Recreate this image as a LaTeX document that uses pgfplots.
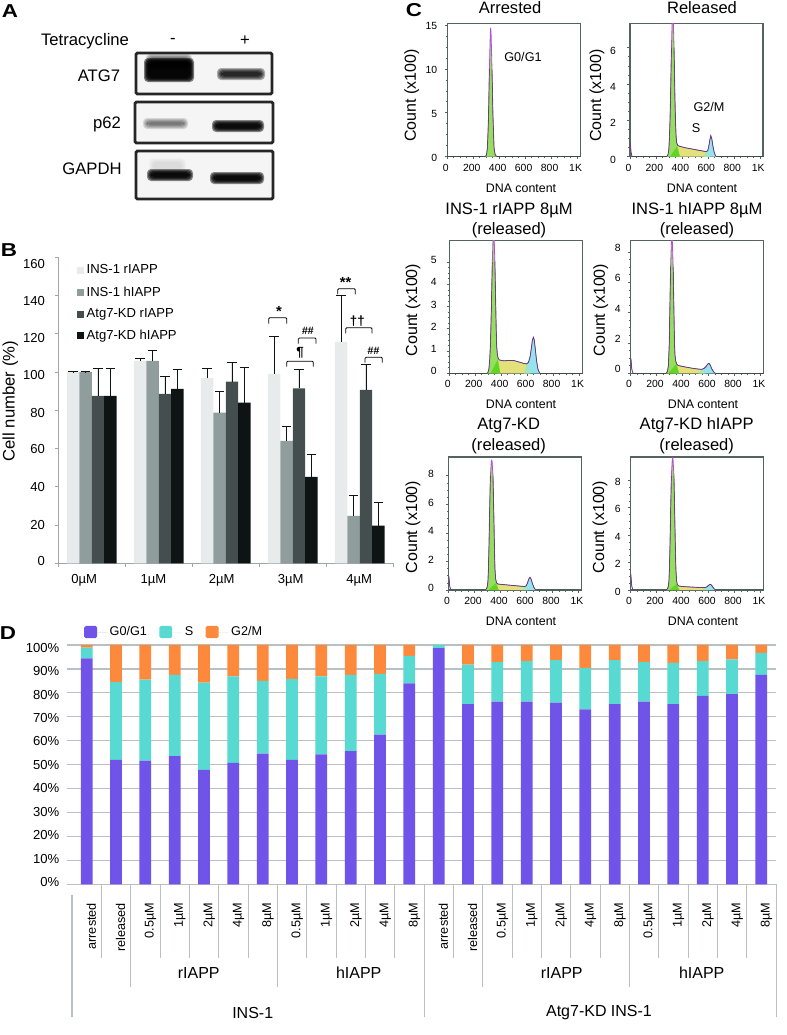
\documentclass[border=0pt]{standalone}
\usepackage{fontspec}
\setmainfont{Liberation Sans}
\usepackage{pgfplots}
\pgfplotsset{compat=1.18}

\definecolor{barA}{HTML}{E8EBEB}
\definecolor{barB}{HTML}{8F9D9D}
\definecolor{barC}{HTML}{444E4E}
\definecolor{barD}{HTML}{0E1414}
\definecolor{phG}{HTML}{7053E8}
\definecolor{phS}{HTML}{58D9D2}
\definecolor{phM}{HTML}{FD8A3C}
\definecolor{gridg}{HTML}{B9C0C3}
\definecolor{boxg}{HTML}{55635F}
\definecolor{axb}{HTML}{A0A6A6}
\definecolor{flCy}{HTML}{94E3EE}
\definecolor{flYe}{HTML}{E3E27A}
\definecolor{flGr}{HTML}{94E05C}
\definecolor{flTr}{HTML}{62D424}
\definecolor{flTc}{HTML}{A6E6B8}
\definecolor{flPu}{HTML}{B44FD6}
\definecolor{flDk}{HTML}{363C40}

\newcommand{\fs}[1]{\fontsize{#1}{#1}\selectfont}

% one western blot band, soft edge made from stacked transparent fills
\newcommand{\band}[5]{\foreach \d in {4,3,2,1,0}{
  \fill[black,opacity=#5,rounded corners=3pt] ({#1-\d},{#2-\d}) rectangle ({#3+\d},{#4+\d});}}
\newcommand{\blotbox}[4]{\draw[black!85,line width=2.2pt,rounded corners=1pt,fill=black!4] (#1,#2) rectangle (#3,#4);}
\newcommand{\brk}[4]{\draw[black,line width=0.65pt,rounded corners=0.8pt] (#1,#4) -- (#1,#3) -- (#2,#3) -- (#2,#4);}

\pgfplotsset{
  flow/.style={
    scale only axis, width=99.75pt, height=99.75pt, anchor=south west,
    xmin=0, xmax=1024, ymin=0,
    xtick={0,200,400,600,800,1000}, xticklabels={0,200,400,600,800,1K},
    minor x tick num=3, minor y tick num=3,
    xtick pos=lower, ytick pos=left, tick align=outside,
    major tick length=2pt, minor tick length=1.2pt,
    tick style={boxg,line width=0.5pt},
    axis line style={boxg,line width=0.8pt},
    ticklabel style={font=\fs{7.8}},
    /pgf/number format/assume math mode=true,
    xticklabel style={xshift=-1.2pt},
    unbounded coords=jump,
  },
  pk/.style={fill=#1,draw=none,forget plot},
}

% curve, peak, triangle under the peak, S, G2/M, triangle under G2/M, top of dark line
\newcommand{\flowlayers}[7]{
  \addplot[pk=flCy] coordinates {#5} \closedcycle;
  \addplot[pk=flYe] coordinates {#4} \closedcycle;
  \addplot[pk=flGr] coordinates {#2} \closedcycle;
  \addplot[pk=flTr] coordinates {#3} \closedcycle;
  \addplot[pk=flTc] coordinates {#6} \closedcycle;
  \addplot[color=flPu,line width=0.6pt,restrict y to domain=0.02:100] coordinates {#1};
  \addplot[color=flDk,line width=0.35pt,restrict y to domain=-1:#7] coordinates {#1};
}
\newcommand{\flowaxis}[7]{
  \coordinate (flowcorner) at (#1,#2);
  \begin{axis}[flow, at={(flowcorner)}, ymax=#3, ytick={#4}, yticklabel style={xshift=#5,yshift=#6}]
  #7
  \end{axis}
}

\begin{document}
\begin{tikzpicture}[x=0.75pt,y=-0.75pt]
\path[use as bounding box] (0,0) rectangle (786,1035);
\coordinate (cornerB) at (58.3,563.3);
\coordinate (cornerD) at (72,884.3);

% panel letters
\foreach \t/\a/\b in {A/10/11,B/9/250,C/414/10,D/8/633}
  \node[font=\fs{14}\bfseries,xscale=1.2,inner sep=0] at (\a,\b) {\t};

% A: blots
\node[font=\fs{12.5}] at (85,41) {Tetracycline};
\node[font=\fs{12.5}] at (173,41) {-};
\node[font=\fs{12.5}] at (245,41) {+};
\node[font=\fs{12.5}] at (99,76) {ATG7};
\node[font=\fs{12.5}] at (107,124) {p62};
\node[font=\fs{12.5}] at (92,169) {GAPDH};
\blotbox{136}{53}{272}{94}
\blotbox{135}{102}{273}{143}
\blotbox{136}{151}{273}{199}
\band{148}{62}{190}{78}{0.5}
\band{150}{58}{188}{66}{0.15}
\band{221}{72}{261}{76}{0.3}
\band{147}{122}{184}{125}{0.13}
\band{216}{124}{260}{128}{0.45}
\band{151}{173}{189}{177}{0.45}
\band{153}{162}{182}{170}{0.02}
\band{214}{176}{260}{180}{0.45}

% B: cell number
\begin{axis}[
    scale only axis, width=251.25pt, height=229.5pt,
    at={(cornerB)}, anchor=south west,
    xmin=-0.5, xmax=4.5, ymin=0, ymax=160,
    ybar=0pt, bar width=9.3pt,
    axis x line*=bottom, axis y line*=left,
    axis line style={axb,line width=0.8pt},
    tick style={axb,line width=0.6pt},
    ytick={1.2,20.05,40.1,59.6,78.6,98.2,117.7,137.4,156.4},
    yticklabels={0,20,40,60,80,100,120,140,160},
    ytick style={draw=none},
    extra y ticks={0,20,40,60,80,100,120,140,160},
    extra y tick labels={},
    extra y tick style={ytick style={draw=axb}},
    xtick={-0.114,0.92,1.94,2.97,3.99},
    xticklabels={0µM,1µM,2µM,3µM,4µM},
    xtick style={draw=none},
    extra x ticks={-0.5,0.5,1.5,2.5,3.5,4.5},
    extra x tick labels={},
    extra x tick style={xtick style={draw=axb}},
    major tick length=2.5pt,
    tick align=outside,
    ticklabel style={font=\fs{9.8}},
    yticklabel style={xshift=-4pt},
    xticklabel style={yshift=-2pt},
    /pgf/number format/assume math mode=true,
    ylabel={Cell number (\%)},
    ylabel style={font=\fs{12.5}, at={(axis description cs:-0.143,0.53)}, anchor=center},
    legend style={draw=none,fill=none,at={(axis description cs:0.056,0.985)},anchor=north west,
      font=\fs{9.8},row sep=3.95pt,inner sep=0pt},
    legend cell align=left,
    legend image code/.code={\fill[#1] (0pt,-2.6pt) rectangle (5pt,2.6pt);},
    error bars/y dir=plus, error bars/y explicit,
    error bars/error bar style={color=barD,line width=0.7pt},
    error bars/error mark options={color=barD,line width=0.7pt,mark size=3.6pt,rotate=90},
  ]
  \addplot[fill=barA,draw=none] coordinates {
    (0,100) +- (0,0.2) (1,105.8) +- (0,1.2) (2,96.8) +- (0,5) (3,99) +- (0,19.7) (4,115.8) +- (0,24)};
  \addplot[fill=barB,draw=none] coordinates {
    (0,100) +- (0,0.2) (1,105.8) +- (0,5.6) (2,78.8) +- (0,11.2) (3,64) +- (0,7.8) (4,24.8) +- (0,10.8)};
  \addplot[fill=barC,draw=none] coordinates {
    (0,87.5) +- (0,14.5) (1,88.6) +- (0,9) (2,95) +- (0,10) (3,91.5) +- (0,9.8) (4,90.7) +- (0,13.2)};
  \addplot[fill=barD,draw=none] coordinates {
    (0,87.5) +- (0,14.5) (1,91.2) +- (0,9.9) (2,84) +- (0,18.4) (3,45.2) +- (0,11.6) (4,19.7) +- (0,12.2)};
  \legend{INS-1 rIAPP,INS-1 hIAPP,Atg7-KD rIAPP,Atg7-KD hIAPP}
\end{axis}

% B: significance brackets
\brk{268.7}{286.7}{317.7}{323.7} \node[font=\fs{11}\bfseries,inner sep=0] at (279,311) {*};
\brk{298.3}{316}{338}{343.7}     \node[font=\fs{8}\bfseries\itshape,inner sep=0] at (307.7,331) {\#\#};
\brk{286.7}{313.3}{361.3}{366.7} \node[font=\fs{10}\bfseries,inner sep=0] at (300,353) {¶};
\brk{337.7}{355.3}{288.7}{294.3} \node[font=\fs{11}\bfseries,inner sep=0] at (345.7,282) {**};
\brk{345.7}{372}{327.7}{333.3}   \node[font=\fs{10}\bfseries,inner sep=0] at (357.3,320.7) {††};
\brk{365}{382.3}{357.3}{362.7}   \node[font=\fs{8}\bfseries\itshape,inner sep=0] at (373.3,350.7) {\#\#};

% C: cell cycle histograms
\flowaxis{447.3}{156.7}{15.15}{0,5,10,15}{-2pt}{-1pt}{
  \addplot[pk=flGr] coordinates {(285,0)(295,.05)(302,.25)(309,1)(314,3)(318,5)(324,10)(331,14)(334,14.7)(337,14)(344,10)(351,5)(355,3)(360,1)(368,.25)(378,.05)(388,0)} \closedcycle;
  \addplot[color=flPu,line width=0.6pt,restrict y to domain=0.02:100] coordinates {(0,0)(285,0)(295,.05)(302,.25)(309,1)(314,3)(318,5)(324,10)(331,14)(334,14.7)(337,14)(344,10)(351,5)(355,3)(360,1)(368,.25)(378,.05)(388,0)(1024,0)};
  \addplot[color=flDk,line width=0.35pt,restrict y to domain=-1:13.5] coordinates {(0,0)(285,0)(295,.05)(302,.25)(309,1)(314,3)(318,5)(324,10)(331,14)(334,14.7)(337,14)(344,10)(351,5)(355,3)(360,1)(368,.25)(378,.05)(388,0)(1024,0)};
}
\flowaxis{630}{156.7}{7.32}{0,2,4,6}{-5pt}{-2.2pt}{
  \flowlayers
  {(0,.8)(3,.7)(8,.25)(14,.05)(22,0)(275,0)(285,.03)(293,.12)(299,.4)(304,1.1)(308,2)(312,3.2)(319,6)(326,7.8)(329,8)(332,7.8)(339,6)(346,3.2)(350,2)(355,1.1)(360,.75)(368,.62)(380,.58)(420,.5)(480,.42)(540,.34)(585,.28)(598,.33)(606,.55)(614,.9)(622,1.16)(630,.98)(638,.6)(648,.25)(658,.06)(670,0)(1024,0)}
  {(275,0)(285,.03)(293,.12)(299,.4)(304,1.1)(308,2)(312,3.2)(319,6)(326,7.8)(329,8)(332,7.8)(339,6)(346,3.2)(350,2)(355,1.1)(360,.75)(368,.62)(385,0)}
  {(308,0)(360,.55)(385,0)}
  {(360,.58)(380,.58)(420,.5)(480,.42)(540,.34)(585,.28)(612,0)(385,0)}
  {(565,0)(585,.28)(598,.33)(606,.55)(614,.9)(622,1.16)(630,.98)(638,.6)(648,.25)(658,.06)(670,0)}
  {(562,0)(588,.28)(615,0)}
  {6.5}
}
\flowaxis{449.3}{373.3}{5.98}{0,1,2,3,4,5}{-4pt}{1.5pt}{
  \flowlayers
  {(0,0)(290,0)(298,.05)(305,.2)(311,.6)(316,1.2)(320,2)(325,3.2)(331,5)(338,6.3)(341,6.4)(344,6.3)(351,5)(357,3.2)(361,2)(365,1.2)(370,.85)(376,.68)(385,.6)(420,.56)(460,.58)(493,.58)(530,.52)(570,.45)(595,.42)(610,.5)(622,.75)(632,1.15)(640,1.5)(647,1.62)(654,1.5)(663,1.05)(672,.55)(682,.2)(692,.05)(700,0)(1024,0)}
  {(290,0)(298,.05)(305,.2)(311,.6)(316,1.2)(320,2)(325,3.2)(331,5)(338,6.3)(341,6.4)(344,6.3)(351,5)(357,3.2)(361,2)(365,1.2)(370,.85)(376,.68)(392,0)}
  {(318,0)(372,.6)(392,0)}
  {(372,.65)(385,.6)(420,.56)(460,.58)(493,.58)(530,.52)(570,.45)(595,.42)(622,0)(392,0)}
  {(575,0)(595,.42)(610,.5)(622,.75)(632,1.15)(640,1.5)(647,1.62)(654,1.5)(663,1.05)(672,.55)(682,.2)(692,.05)(700,0)}
  {(575,0)(597,.42)(625,0)}
  {5.4}
}
\flowaxis{630.7}{373.3}{8.77}{0,2,4,6,8}{-2pt}{3pt}{
  \flowlayers
  {(0,1)(3,.85)(8,.3)(14,.06)(22,0)(268,0)(276,.04)(284,.15)(290,.5)(294,1.3)(297,2)(301,4)(307,7)(314,8.8)(317,9)(320,8.8)(327,7)(333,4)(337,2)(341,1.2)(347,.8)(355,.6)(365,.52)(400,.45)(450,.37)(500,.3)(545,.26)(565,.32)(580,.45)(592,.6)(602,.66)(612,.55)(625,.28)(640,.08)(655,0)(1024,0)}
  {(268,0)(276,.04)(284,.15)(290,.5)(294,1.3)(297,2)(301,4)(307,7)(314,8.8)(317,9)(320,8.8)(327,7)(333,4)(337,2)(341,1.2)(347,.8)(355,.6)(372,0)}
  {(290,0)(350,.6)(372,0)}
  {(350,.62)(365,.52)(400,.45)(450,.37)(500,.3)(545,.26)(570,0)(372,0)}
  {(530,0)(545,.26)(565,.32)(580,.45)(592,.6)(602,.66)(612,.55)(625,.28)(640,.08)(655,0)}
  {(520,0)(548,.26)(575,0)}
  {7.8}
}
\flowaxis{448.7}{590}{9.31}{0,2,4,6,8}{-5.5pt}{1.2pt}{
  \flowlayers
  {(0,1)(3,.8)(8,.25)(14,.05)(22,0)(280,0)(288,.05)(296,.2)(302,.6)(306,1.5)(310,3)(314,5)(321,8)(328,9)(331,9.07)(334,9)(341,8)(348,5)(352,3)(356,1.5)(361,.8)(368,.5)(378,.42)(420,.38)(480,.33)(540,.28)(585,.24)(597,.3)(607,.5)(617,.78)(626,.89)(635,.75)(645,.45)(655,.2)(666,.05)(678,0)(1024,0)}
  {(280,0)(288,.05)(296,.2)(302,.6)(306,1.5)(310,3)(314,5)(321,8)(328,9)(331,9.07)(334,9)(341,8)(348,5)(352,3)(356,1.5)(361,.8)(368,.5)(385,0)}
  {(305,0)(362,.48)(385,0)}
  {(362,.5)(378,.42)(420,.38)(480,.33)(540,.28)(585,.24)(608,0)(385,0)}
  {(565,0)(585,.24)(597,.3)(607,.5)(617,.78)(626,.89)(635,.75)(645,.45)(655,.2)(666,.05)(678,0)}
  {(558,0)(587,.24)(612,0)}
  {8.4}
}
\flowaxis{630.7}{590}{9.7}{0,2,4,6,8}{-2pt}{-1.2pt}{
  \flowlayers
  {(0,1.2)(3,.9)(8,.3)(14,.06)(22,0)(272,0)(280,.05)(288,.2)(294,.6)(298,1.5)(302,3)(306,5)(313,8.3)(320,9.5)(323,9.65)(326,9.5)(333,8.3)(340,5)(344,3)(348,1.5)(353,.7)(358,.42)(368,.3)(400,.25)(460,.22)(520,.19)(570,.17)(585,.22)(597,.32)(607,.4)(615,.41)(624,.33)(635,.17)(646,.05)(658,0)(1024,0)}
  {(272,0)(280,.05)(288,.2)(294,.6)(298,1.5)(302,3)(306,5)(313,8.3)(320,9.5)(323,9.65)(326,9.5)(333,8.3)(340,5)(344,3)(348,1.5)(353,.7)(358,.42)(374,0)}
  {(295,0)(352,.42)(374,0)}
  {(352,.44)(368,.3)(400,.25)(460,.22)(520,.19)(570,.17)(592,0)(374,0)}
  {(555,0)(570,.17)(585,.22)(597,.32)(607,.4)(615,.41)(624,.33)(635,.17)(646,.05)(658,0)}
  {(550,0)(572,.17)(595,0)}
  {9}
}

% C: titles and labels
\foreach \t/\a/\b in {Arrested/510/8,Released/702/8,
    INS-1 rIAPP 8µM/509/210,(released)/509/230.7,
    INS-1 hIAPP 8µM/697/210,(released)/697/230.7,
    Atg7-KD/508.7/425.7,(released)/508.7/446,
    Atg7-KD hIAPP/696.7/425.7,(released)/696.7/446}
  \node[font=\fs{12.4},inner sep=0] at (\a,\b) {\t};
\foreach \a/\b in {411.7/95.7,597/95.7,413/310,600.7/310,413/527,600/527}
  \node[font=\fs{12},inner sep=0,rotate=90] at (\a,\b) {Count (x100)};
\foreach \a/\b in {521/188,702/188,521/404.3,703/404.3,521/621,703/621}
  \node[font=\fs{9.3},inner sep=0] at (\a,\b) {DNA content};
\node[font=\fs{9.5},inner sep=0] at (523,57) {G0/G1};
\node[font=\fs{9.5},inner sep=0] at (709,107) {G2/M};
\node[font=\fs{9.5},inner sep=0] at (696,128) {S};

% D: stacked phases
\begin{axis}[
    scale only axis, width=528pt, height=179.5pt,
    at={(cornerD)}, anchor=south west,
    xmin=0, xmax=24, ymin=0, ymax=100,
    ybar stacked, bar width=8.8pt,
    axis x line*=bottom, axis y line*=left,
    x axis line style={gridg,line width=0.8pt},
    y axis line style={draw=none},
    ytick={1.1,10.7,20.6,30.4,40.1,49.9,59.7,69.5,79.2,89.1,98.9},
    yticklabels={0\%,10\%,20\%,30\%,40\%,50\%,60\%,70\%,80\%,90\%,100\%},
    ytick style={draw=none},
    extra y ticks={0,10,20,30,40,50,60,70,80,90,100},
    extra y tick labels={},
    extra y tick style={grid=major,ytick style={draw=gridg}},
    grid style={gridg,line width=0.9pt},
    major tick length=4pt, tick align=outside,
    tick style={line width=0.9pt},
    xtick={0.66,1.66,2.68,3.68,4.68,5.68,6.68,7.68,8.68,9.68,10.68,11.68,12.66,13.66,14.68,15.68,16.68,17.68,18.68,19.68,20.68,21.68,22.68,23.68},
    xticklabels={arrested,released,0.5µM,1µM,2µM,4µM,8µM,0.5µM,1µM,2µM,4µM,8µM,arrested,released,0.5µM,1µM,2µM,4µM,8µM,0.5µM,1µM,2µM,4µM,8µM},
    xtick style={draw=none},
    xticklabel style={rotate=90,anchor=east,font=\fs{9.5}},
    xticklabel shift=6.5pt,
    yticklabel style={font=\fs{9.8},xshift=-2pt},
    /pgf/number format/assume math mode=true,
    clip=false,
    legend columns=3,
    legend style={draw=none,fill=none,at={(axis description cs:0.017,1.054)},anchor=west,
      font=\fs{9.5},inner sep=0pt,
      /tikz/every even column/.append style={column sep=7.3pt}},
    legend image code/.code={\path (0pt,0pt) -- (17.1pt,0pt);
      \fill[#1,rounded corners=1.2pt] (0pt,-4.6pt) rectangle (9.6pt,4.6pt);},
  ]
  \addplot[fill=phG,draw=none] coordinates {(0.5,94.4)(1.5,52)(2.5,51.7)(3.5,53.6)(4.5,47.8)(5.5,50.7)(6.5,54.6)(7.5,52)(8.5,54.3)(9.5,55.6)(10.5,62.5)(11.5,84)(12.5,98.7)(13.5,75.3)(14.5,76.3)(15.5,76.3)(16.5,75.9)(17.5,73.1)(18.5,75.3)(19.5,76.3)(20.5,75.3)(21.5,78.7)(22.5,79.5)(23.5,87.5)};
  \addplot[fill=phS,draw=none] coordinates {(0.5,4.5)(1.5,32.5)(2.5,33.8)(3.5,33.9)(4.5,36.5)(5.5,36.2)(6.5,30.4)(7.5,33.8)(8.5,32.6)(9.5,31.9)(10.5,25.4)(11.5,11.4)(12.5,1.3)(13.5,16.5)(14.5,16.5)(15.5,17)(16.5,17.8)(17.5,17.3)(18.5,18.4)(19.5,16.5)(20.5,17.2)(21.5,14.6)(22.5,14.5)(23.5,9.2)};
  \addplot[fill=phM,draw=none] coordinates {(0.5,1.1)(1.5,15.5)(2.5,14.5)(3.5,12.5)(4.5,15.7)(5.5,13.1)(6.5,15)(7.5,14.2)(8.5,13.1)(9.5,12.5)(10.5,12.1)(11.5,4.6)(12.5,0)(13.5,8.2)(14.5,7.2)(15.5,6.7)(16.5,6.3)(17.5,9.6)(18.5,6.3)(19.5,7.2)(20.5,7.5)(21.5,6.7)(22.5,6)(23.5,3.3)};
  \legend{G0/G1,S,G2/M}
  % category separators under the axis
  \pgfplotsinvokeforeach{1,3,4,5,6,8,9,10,11,13,15,16,17,18,20,21,22,23}{
    \draw[gridg,line width=0.75pt] (axis cs:#1,0) -- (axis cs:#1,-30.9);}
  \pgfplotsinvokeforeach{2,7,14,19}{
    \draw[gridg,line width=0.75pt] (axis cs:#1,0) -- (axis cs:#1,-43);}
  \pgfplotsinvokeforeach{12,24}{
    \draw[gridg,line width=0.75pt] (axis cs:#1,0) -- (axis cs:#1,-55.6);}
  \draw[gridg,line width=1pt] (axis cs:0,-4.4) -- (axis cs:0,-55.6);
\end{axis}
\foreach \t/\a/\b in {rIAPP/198.7/973,hIAPP/358.7/973,rIAPP/561.7/973,hIAPP/701.7/973,INS-1/252.7/1012.7,Atg7-KD INS-1/599/1012.7}
  \node[font=\fs{12},inner sep=0] at (\a,\b) {\t};
\end{tikzpicture}
\end{document}
